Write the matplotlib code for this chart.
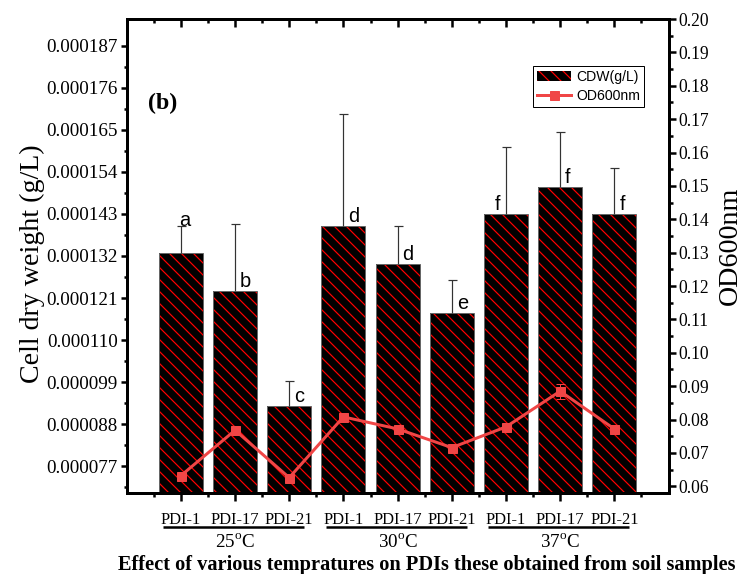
import matplotlib.pyplot as plt
import numpy as np

plt.rcParams['font.family'] = 'Liberation Serif'
plt.rcParams['mathtext.fontset'] = 'custom'
plt.rcParams['mathtext.rm'] = 'Liberation Serif'
plt.rcParams['hatch.linewidth'] = 1.2

# data
strains = ['PDI-1', 'PDI-17', 'PDI-21'] * 3
temps = ['25', '30', '37']
cdw = np.array([1.329, 1.229, 0.928, 1.399, 1.300, 1.170, 1.430, 1.500, 1.430]) * 1e-4
cdw_err = np.array([0.070, 0.176, 0.066, 0.292, 0.099, 0.087, 0.176, 0.144, 0.119]) * 1e-4
od600 = np.array([0.0632, 0.0768, 0.0626, 0.0808, 0.0772, 0.0716, 0.0778, 0.0885, 0.0772])
od_err = np.array([0, 0, 0, 0, 0, 0, 0, 0.0023, 0])
letters = ['a', 'b', 'c', 'd', 'd', 'e', 'f', 'f', 'f']
letter_side = ['top', 'right', 'right', 'right', 'right', 'right', 'left', 'right', 'right']

x = np.arange(1, len(cdw) + 1)
red = '#f04646'
sans = 'Liberation Sans'

fig = plt.figure(figsize=(744 / 72, 574 / 72), dpi=72)
ax = fig.add_axes([126.7 / 744, 81 / 574, 541.8 / 744, 474 / 574])
ax2 = ax.twinx()

# 1. hatched bars + thin outline
bars = ax.bar(x, cdw, width=0.81, color='black', edgecolor='red', hatch='\\\\',
              linewidth=0, label='CDW(g/L)', zorder=2)
ax.bar(x, cdw, width=0.81, fill=False, edgecolor='#666666', linewidth=1, zorder=3)
eb = ax.errorbar(x, cdw, yerr=[np.zeros(len(cdw)), cdw_err], fmt='none',
                 ecolor='#333333', elinewidth=1.2, capsize=4.5, capthick=1.2, zorder=4)
eb[1][0].set_visible(False)

# significance letters
for xi, v, e, lt, side in zip(x, cdw, cdw_err, letters, letter_side):
    if side == 'top':
        ax.annotate(lt, (xi, v + e), xytext=(4, 0), textcoords='offset points',
                    ha='center', va='baseline', fontsize=20, family=sans)
    elif side == 'left':
        ax.annotate(lt, (xi, v), xytext=(-6, 4), textcoords='offset points',
                    ha='right', va='baseline', fontsize=20, family=sans)
    else:
        ax.annotate(lt, (xi, v), xytext=(5, 4), textcoords='offset points',
                    ha='left', va='baseline', fontsize=20, family=sans)

# 2. OD600 line
line, = ax2.plot(x, od600, color=red, marker='s', markersize=9, lw=3, label='OD600nm')
ax2.errorbar(x, od600, yerr=od_err, fmt='none', ecolor=red, elinewidth=1,
             capsize=4.5, capthick=1)

# axes ranges and ticks
ax.set_xlim(0, 10)
ax.set_xticks(x)
ax.set_xticks(np.arange(0.5, 10, 1), minor=True)
ax.set_xticklabels(strains, fontsize=16.5)

left_ticks = np.round(0.000077 + 0.000011 * np.arange(11), 6)
ax.set_ylim(0.00007, 0.000194)
ax.set_yticks(left_ticks)
ax.set_yticks(left_ticks - 0.0000055, minor=True)
ax.set_yticklabels([f'{v:.6f}' for v in left_ticks], fontsize=19)
ax.set_ylabel('Cell dry weight (g/L)', fontsize=28)
ax.yaxis.set_label_coords(-0.150, 0.483)

right_ticks = np.round(np.arange(0.06, 0.2001, 0.01), 2)
ax2.set_ylim(0.058, 0.20)
ax2.set_yticks(right_ticks)
ax2.set_yticks(right_ticks[:-1] + 0.005, minor=True)
ax2.set_yticklabels([f'{v:.2f}' for v in right_ticks], fontsize=17.5)
ax2.set_ylabel('OD600nm', fontsize=28)
ax2.yaxis.set_label_coords(1.092, 0.521)

ax.tick_params(axis='x', which='major', direction='out', length=8, width=2.5, pad=11)
ax.tick_params(axis='x', which='minor', direction='out', length=4, width=2.5)
ax.tick_params(axis='y', which='major', direction='out', length=6, width=2.5, pad=3)
ax.tick_params(axis='y', which='minor', direction='out', length=3.5, width=2.5)
ax2.tick_params(axis='y', which='major', direction='out', length=7, width=2.5, pad=3)
ax2.tick_params(axis='y', which='minor', direction='out', length=4, width=2.5)

# inward ticks along the top
ax2.xaxis.set_visible(True)
ax2.xaxis.set_ticks_position('top')
ax2.tick_params(axis='x', which='major', direction='in', length=8, width=2.5,
                labeltop=False, labelbottom=False)
ax2.tick_params(axis='x', which='minor', direction='in', length=4, width=2.5)

for a in (ax, ax2):
    for sp in a.spines.values():
        sp.set_linewidth(3)

# group underlines and temperature labels
trans = ax.get_xaxis_transform()
for g, t in enumerate(temps):
    ax.plot([3 * g + 0.67, 3 * g + 3.28], [-0.071, -0.071], transform=trans,
            color='black', lw=2.5, clip_on=False, solid_capstyle='butt')
    ax.text(3 * g + 2, -0.103, f'{t}$^{{\\mathrm{{o}}}}$C', transform=trans,
            ha='center', va='center', fontsize=19)

fig.text(0.199, 0.82, '(b)', fontsize=24, weight='bold', va='center')

fig.text(0.574, 0.0165, 'Effect of various tempratures on PDIs these obtained from soil samples',
         ha='center', va='center', fontsize=20.4, weight='bold')

leg = ax2.legend([bars, line], ['CDW(g/L)', 'OD600nm'], loc='upper right',
                 bbox_to_anchor=(0.955, 0.901), borderaxespad=0, fancybox=False,
                 edgecolor='black', framealpha=1, prop={'family': sans, 'size': 14},
                 handlelength=2.4, handletextpad=0.35, borderpad=0.3, labelspacing=0.35)
leg.get_frame().set_linewidth(1)

fig.savefig('out.png', dpi=72)
